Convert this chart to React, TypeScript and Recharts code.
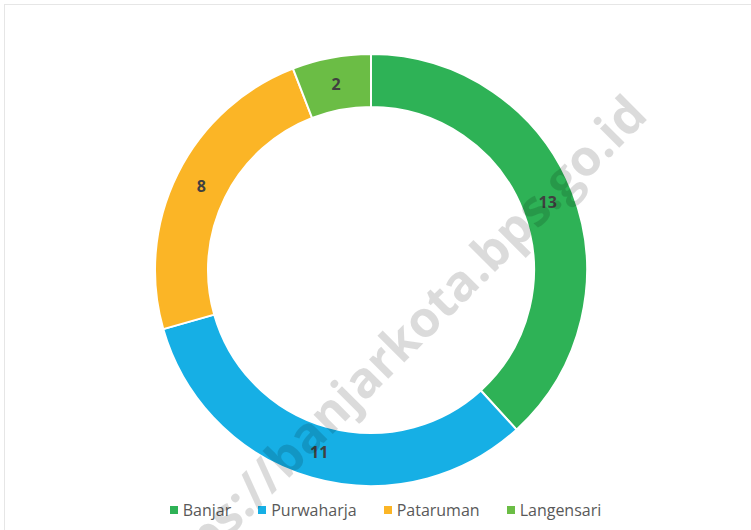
import { PieChart, Pie, Cell, Legend } from "recharts"

const categories = ["Banjar", "Purwaharja", "Pataruman", "Langensari"]
const counts = [13, 11, 8, 2]
const colors = ["#2EB256", "#16AFE5", "#FBB526", "#6BBD45"]

const data = categories.map((name, i) => ({ name, value: counts[i] }))

const RAD = Math.PI / 180

function renderLabel(props: any) {
  const { cx, cy, midAngle, innerRadius, outerRadius, value } = props
  const r = (innerRadius + outerRadius) / 2
  const x = cx + r * Math.cos(-midAngle * RAD)
  const y = cy + r * Math.sin(-midAngle * RAD)
  return (
    <text
      x={x}
      y={y}
      textAnchor="middle"
      dominantBaseline="central"
      fill="#404040"
      fontSize={16}
      fontWeight={700}
      fontFamily="'Open Sans', sans-serif"
    >
      {value}
    </text>
  )
}

function LegendContent() {
  return (
    <div style={{ display: "flex", justifyContent: "center", gap: 27, fontFamily: "'Open Sans', sans-serif", fontSize: 16, color: "#595959" }}>
      {categories.map((c, i) => (
        <div key={c} style={{ display: "flex", alignItems: "center" }}>
          <span style={{ width: 8, height: 8, background: colors[i], marginRight: 5, display: "inline-block" }} />
          <span>{c}</span>
        </div>
      ))}
    </div>
  )
}

export default function App() {
  return (
    <div style={{ position: "fixed", left: 0, top: 0, width: 751, height: 530, background: "#fff", overflow: "hidden" }}>
      <div style={{ position: "absolute", left: 4, top: 4, width: 800, height: 600, border: "1px solid #e6e6e6" }} />
      <PieChart width={751} height={530} margin={{ top: 0, right: 0, bottom: 0, left: 0 }} style={{ position: "absolute", left: 0, top: 0 }}>
        <Pie
          data={data}
          dataKey="value"
          nameKey="name"
          cx={371}
          cy={270}
          innerRadius={163}
          outerRadius={216}
          startAngle={90}
          endAngle={-270}
          stroke="#fff"
          strokeWidth={2}
          label={renderLabel}
          labelLine={false}
          isAnimationActive={false}
        >
          {data.map((d, i) => (
            <Cell key={d.name} fill={colors[i]} />
          ))}
        </Pie>
        <Legend
          content={<LegendContent />}
          wrapperStyle={{ left: 10, width: 751, top: 499 }}
        />
      </PieChart>
      <div
        style={{
          position: "absolute",
          left: 388,
          top: 352,
          transform: "translate(-50%, -50%) rotate(-45deg)",
          whiteSpace: "nowrap",
          fontFamily: "'Open Sans', sans-serif",
          fontWeight: 700,
          fontSize: 50,
          color: "rgba(0,0,0,0.14)",
          pointerEvents: "none",
        }}
      >
        https://banjarkota.bps.go.id
      </div>
    </div>
  )
}
